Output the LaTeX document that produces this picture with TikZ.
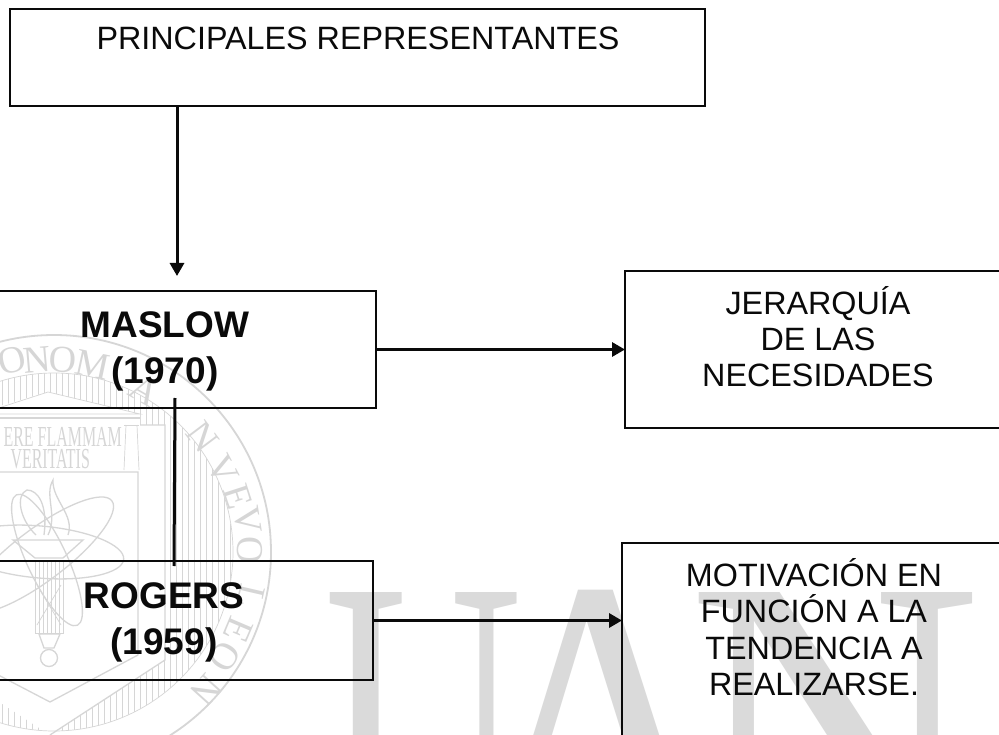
\documentclass[tikz,border=0pt]{standalone}
\usepackage{fontspec}
\setmainfont{Liberation Sans}
\newfontfamily\wmserif{Liberation Serif}
\usetikzlibrary{arrows.meta}
\definecolor{wm}{HTML}{D6D6D6}
\definecolor{wmbig}{HTML}{DADADA}
\definecolor{ink}{HTML}{0A0A0A}
\tikzset{
  boxnode/.style={draw=ink,line width=2.9pt,fill=none,inner sep=0pt,outer sep=0pt,minimum width=#1},
  plainlabel/.style={text=ink,align=center,inner sep=0pt,font=\fontsize{32.3}{36.5}\selectfont},
  boldlabel/.style={text=ink,align=center,inner sep=0pt,font=\fontsize{37}{46}\selectfont\bfseries},
  conn/.style={draw=ink,line width=3pt},
  arrowconn/.style={conn,-{Triangle[length=13pt,width=14pt]}},
  wmline/.style={draw=wm,line width=1.3pt},
  wmthin/.style={draw=wm,line width=0.7pt},
  wmletter/.style={text=wm,inner sep=0pt,font=\wmserif\fontsize{38}{38}\selectfont},
  wmsmall/.style={text=wm,inner sep=0pt,xscale=0.55,font=\wmserif\fontsize{29}{29}\selectfont},
  wmbigletter/.style={text=wmbig,inner sep=0pt,anchor=base,font=\wmserif\fontsize{208}{208}\selectfont},
}
\begin{document}
\begin{tikzpicture}[x=1pt,y=-1pt]
\useasboundingbox (0,0) rectangle (999,735);
\clip (0,0) rectangle (999,735);
\fill[white] (0,0) rectangle (999,735);

% ---- seal watermark
\begin{scope}
  \clip (54,552) circle[radius=179];
  \foreach \hx in {-130,-124,...,240}{\draw[wmthin] (\hx,360) -- (\hx,740);}
\end{scope}
\fill[white] (48,392) -- (140,414) -- (140,425) -- (165,425) -- (165,660) -- (50,735) -- (-65,660) -- (-65,425) -- cycle;
\draw[wmline,line width=1.8pt] (54,552) circle[radius=217];
\draw[wmthin] (54,552) circle[radius=179];
% pediment and frame
\draw[wmthin] (-20,414) -- (48,392) -- (140,414) -- cycle;
\draw[wmline] (-20,418) -- (140,418);
\draw[wmline] (140,425) -- (165,425) -- (165,660) -- (50,735);
\draw[wmline] (0,472) -- (138,472) -- (138,655) -- (50,702) -- (-40,655);
\draw[wmthin] (126,425) -- (124,470);
\draw[wmthin] (137,425) -- (139,470);
\draw[wmthin] (124,425) -- (139,425);
% motto
\node[wmsmall,anchor=east] (motto1) at (122,437) {ERE FLAMMAM};
\node[wmsmall,anchor=east] (motto2) at (90,459) {VERITATIS};
% torch and atom
\draw[wmline] (48,535) .. controls (58,515) and (44,495) .. (53,480) .. controls (52,500) and (75,515) .. (68,535);
\draw[wmline] (36,535) .. controls (20,520) and (15,495) .. (27,490) .. controls (38,490) and (48,505) .. (44,535);
\draw[wmline] (13,540) -- (83,540) -- (63,558) -- (35,558) -- cycle;
\draw[wmthin] (35,560) rectangle (63,633);
\foreach \tx in {39,43,...,59}{\draw[wmthin] (\tx,560) -- (\tx,633);}
\draw[wmthin] (37,585) -- (61,625) (61,585) -- (37,625);
\draw[wmline] (39,634) -- (60,634) -- (54,648) -- (44,648) -- cycle;
\draw[wmline] (49,658) circle[radius=8.5];
\draw[wmline,rotate around={37:(40,555)}] (40,555) ellipse[x radius=90,y radius=26];
\draw[wmline,rotate around={-5:(40,552)}] (40,552) ellipse[x radius=84,y radius=26];
\draw[wmline,rotate around={-65:(47,560)}] (47,560) ellipse[x radius=72,y radius=20];
% ring letters
\foreach \lx/\ly/\ang/\ltr in {12/360/-13/O,37/360/-5/N,63/360/3/O,93/365/12/M,145/390/30/A,
   203/437/53/N,223/470/62/V,238/497/72/E,248/520/81/V,250/550/90/O,
   251/597/103/L,238/630/113/E,225/657/122/O,207/690/132/N}{
  \node[wmletter,rotate=-\ang] at (\lx,\ly) {\ltr};
}
% big letters
\foreach \bx/\xs/\ltr in {424/1.32/U,599/1.8/A,835/1.96/N}{
  \node[wmbigletter,xscale=\xs,yscale=2.1] at (\bx,878) {\ltr};
}

% ---- diagram
\node[boxnode=695pt,minimum height=97pt] (topbox) at (357.5,57.5) {};
\node[boxnode=381pt,minimum height=117pt] (maslow) at (185.5,349.5) {};
\node[boxnode=380pt,minimum height=157pt] (jer) at (815,349.5) {};
\node[boxnode=378pt,minimum height=119pt] (rogers) at (184,620.5) {};
\node[boxnode=383pt,minimum height=202pt] (motiv) at (813.5,644) {};

\node[plainlabel] (ttop) at (358,38) {PRINCIPALES REPRESENTANTES};
\node[boldlabel] (tmas) at (165,351) {MASLOW\\(1970)};
\node[boldlabel] (trog) at (164,622) {ROGERS\\(1959)};
\node[plainlabel,font=\fontsize{32.3}{36}\selectfont] (tjer) at (818,337) {JERARQUÍA\\DE LAS\\NECESIDADES};
\node[plainlabel] (tmot) at (814,627) {MOTIVACIÓN EN\\FUNCIÓN A LA\\TENDENCIA A\\REALIZARSE.};

\coordinate (mtip) at (177,276);
\coordinate (mstart) at (175,398);
\coordinate (rend) at (174,566);
\draw[arrowconn] (topbox.south -| mtip) -- (mtip);
\draw[conn] (mstart) -- (rend);
\draw[arrowconn] (maslow.east) -- (jer.west);
\draw[arrowconn,line width=3.4pt] (rogers.east) -- (motiv.west |- rogers.east);
\end{tikzpicture}
\end{document}
